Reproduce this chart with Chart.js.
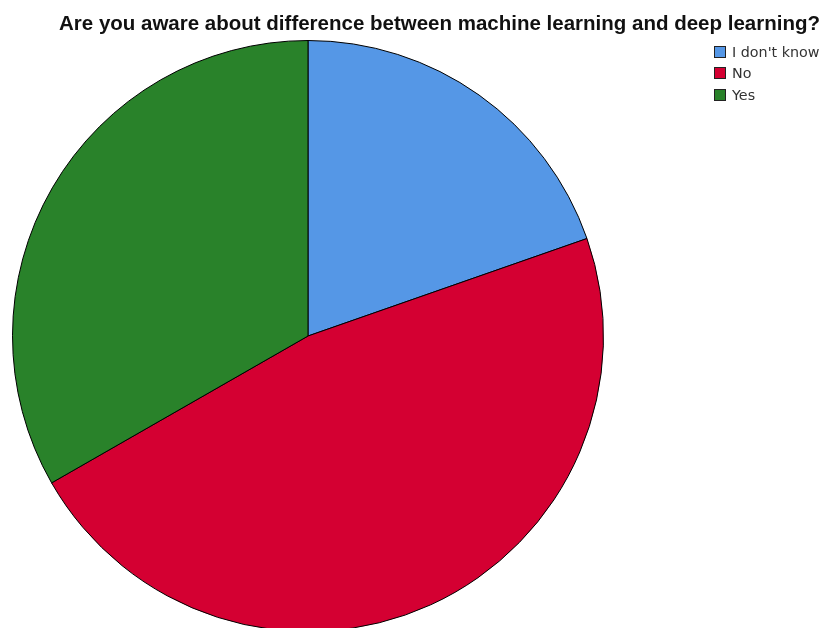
<!DOCTYPE html>
<html>
<head>
<meta charset="utf-8">
<script src="https://cdn.jsdelivr.net/npm/chart.js@4"></script>
<style>
  body { margin: 0; background: #fff; }
  .wrap { position: relative; width: 824px; height: 628px; overflow: hidden; }
  #pie { position: absolute; left: 0; top: 0; }
  .title { position: absolute; left: 59px; top: 13px; font: bold 20.5px "Liberation Sans", Arial, sans-serif; color: #111; white-space: nowrap; line-height: 1; }
  .legend { position: absolute; left: 714px; top: 41px; font: 14.3px "DejaVu Sans", sans-serif; color: #333; }
  .legend div { height: 21.5px; display: flex; align-items: center; }
  .legend span.box { width: 10px; height: 10px; border: 1px solid #222; margin-right: 6px; }
</style>
</head>
<body>
<div class="wrap">
  <canvas id="pie" width="824" height="680"></canvas>
  <div class="title" id="title"></div>
  <div class="legend" id="legend"></div>
</div>
<script>
const chartTitle = 'Are you aware about difference between machine learning and deep learning?';
const answers = ["I don't know", 'No', 'Yes'];
const percents = [19.65, 47.07, 33.28];
const sliceColors = ['#5597e6', '#d40032', '#29822a'];

document.getElementById('title').textContent = chartTitle;

// legenda fatta a mano, in alto a destra
const legendEl = document.getElementById('legend');
answers.forEach((a, i) => {
  const row = document.createElement('div');
  const box = document.createElement('span');
  box.className = 'box';
  box.style.background = sliceColors[i];
  row.appendChild(box);
  row.appendChild(document.createTextNode(a));
  legendEl.appendChild(row);
});

const ctx = document.getElementById('pie').getContext('2d');
new Chart(ctx, {
  type: 'pie',
  data: {
    labels: answers,
    datasets: [{
      data: percents,
      backgroundColor: sliceColors,
      borderColor: '#000',
      borderWidth: 1,
    }],
  },
  options: {
    responsive: false,
    animation: false,
    layout: { padding: { left: 12, right: 220, top: 40, bottom: 48 } },
    plugins: {
      legend: { display: false },
      title: { display: false },
      tooltip: { enabled: true },
    },
  },
});
</script>
</body>
</html>
